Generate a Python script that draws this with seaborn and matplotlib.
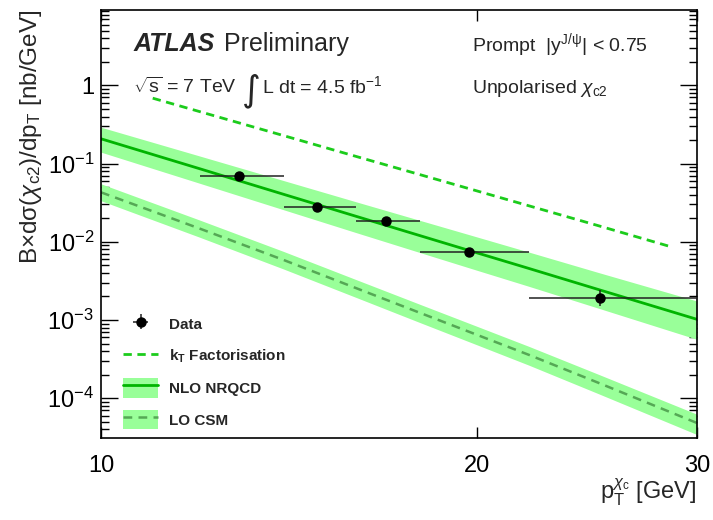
import numpy as np
import pandas as pd
import matplotlib
matplotlib.use("Agg")
import matplotlib.pyplot as plt
import seaborn as sns
from matplotlib.lines import Line2D
from matplotlib.patches import Patch
from matplotlib.legend_handler import HandlerTuple
from matplotlib.ticker import FixedLocator, FixedFormatter, LogLocator, NullFormatter, NullLocator

# ---------------- data ----------------
data_pt = [12.9, 14.9, 16.9, 19.7, 25.1]
data_lo = [12.0, 14.0, 16.0, 18.0, 22.0]
data_hi = [14.0, 16.0, 18.0, 22.0, 30.0]
data_y = [0.0687, 0.0281, 0.0184, 0.00744, 0.00191]
data_ydn = [0.004, 0.0018, 0.0012, 0.0006, 0.0004]
data_yup = [0.004, 0.0018, 0.0012, 0.0007, 0.0005]

theo_pt = [10, 12, 14, 16, 18, 20, 22, 25, 30]
nlo_c = [0.2075, 0.0858, 0.0405, 0.0212, 0.0120, 0.00722, 0.00457, 0.00246, 0.00102]
nlo_up = [0.2917, 0.1248, 0.0607, 0.0325, 0.0188, 0.01153, 0.0074, 0.00406, 0.00175]
nlo_dn = [0.140, 0.0559, 0.0257, 0.01312, 0.00729, 0.00432, 0.0027, 0.00142, 0.000566]

lo_c = [0.0429, 0.01472, 0.00586, 0.00256, 0.001236, 0.000646, 0.000359, 0.000158, 0.0000482]
lo_up = [0.0551, 0.01892, 0.00753, 0.00329, 0.001588, 0.00083, 0.000461, 0.000203, 0.0000624]
lo_dn = [0.0335, 0.01141, 0.00449, 0.001946, 0.000928, 0.000481, 0.000265, 0.0001147, 0.0000343]

kt_pt = [11, 12, 14, 16, 18, 20, 22, 25, 28.6]
kt_y = [0.686, 0.461, 0.228, 0.1236, 0.0723, 0.0447, 0.0289, 0.0161, 0.00863]

yticks = [1e-4, 1e-3, 1e-2, 1e-1, 1]
ytick_labels = ["10$^{-4}$", "10$^{-3}$", "10$^{-2}$", "10$^{-1}$", "1"]
xticks = [10, 20, 30]
xtick_labels = ["10", "20", "30"]

# ---------------- style ----------------
sns.set_theme(style="ticks")
plt.rcParams['font.family'] = ['Liberation Sans', 'DejaVu Sans']
plt.rcParams['mathtext.fontset'] = 'custom'
plt.rcParams['mathtext.rm'] = 'Liberation Sans'
plt.rcParams['mathtext.it'] = 'Liberation Sans:italic'
plt.rcParams['mathtext.bf'] = 'Liberation Sans:bold'

band_col = "#99ff99"
nlo_col = "#00b400"
kt_col = "#1ccc1c"
lo_col = "#55a855"

fig = plt.figure(figsize=(7.13, 5.20), dpi=100)
ax = fig.add_axes([101/713, 82/520, 596/713, 428/520])

theo = pd.DataFrame({"pt": theo_pt, "nlo": nlo_c, "nlo_up": nlo_up, "nlo_dn": nlo_dn,
                     "lo": lo_c, "lo_up": lo_up, "lo_dn": lo_dn})
kt = pd.DataFrame({"pt": kt_pt, "y": kt_y})

ax.fill_between(theo["pt"], theo["nlo_dn"], theo["nlo_up"], color=band_col, lw=0, zorder=1)
ax.fill_between(theo["pt"], theo["lo_dn"], theo["lo_up"], color=band_col, lw=0, zorder=1)

sns.lineplot(data=theo, x="pt", y="nlo", ax=ax, color=nlo_col, lw=2.0, zorder=2)
sns.lineplot(data=theo, x="pt", y="lo", ax=ax, color=lo_col, lw=1.8, zorder=2)
ax.lines[-1].set_dashes((3.5, 2.5))
sns.lineplot(data=kt, x="pt", y="y", ax=ax, color=kt_col, lw=2.0, zorder=2)
ax.lines[-1].set_dashes((3, 2))

xerr = [np.array(data_pt) - np.array(data_lo), np.array(data_hi) - np.array(data_pt)]
yerr = [data_ydn, data_yup]
eb = ax.errorbar(data_pt, data_y, xerr=xerr, yerr=yerr, fmt='o', color='black',
                 ecolor='#222222', elinewidth=1.1, capsize=0, ms=6.5, zorder=5)

ax.set_xscale('log')
ax.set_yscale('log')
ax.set_xlim(10, 30)
ax.set_ylim(3.1e-5, 9.2)

ax.xaxis.set_major_locator(FixedLocator(xticks))
ax.xaxis.set_major_formatter(FixedFormatter(xtick_labels))
ax.xaxis.set_minor_locator(NullLocator())
ax.xaxis.set_minor_formatter(NullFormatter())
ax.yaxis.set_major_locator(FixedLocator(yticks))
ax.yaxis.set_major_formatter(FixedFormatter(ytick_labels))
ax.yaxis.set_minor_locator(LogLocator(base=10, subs=np.arange(2, 10)))
ax.yaxis.set_minor_formatter(NullFormatter())

ax.tick_params(axis='both', which='both', direction='in', colors='black', labelsize=17)
ax.tick_params(axis='x', which='major', length=8, width=1, top=True, bottom=True, pad=12)
ax.tick_params(axis='y', which='major', length=12, width=1, left=True, right=True, pad=5)
ax.tick_params(axis='y', which='minor', length=6, width=1, left=True, right=True)
for s in ax.spines.values():
    s.set_linewidth(1.2)
    s.set_color('black')

ax.set_ylabel(r"B×dσ($\chi_{\mathrm{c2}}$)/dp$_{\mathrm{T}}$ [nb/GeV]", fontsize=17.5, loc='top', labelpad=2)
ax.set_xlabel(r"$\mathrm{p}_{\mathrm{T}}^{\chi_{\mathrm{c}}}$ [GeV]", fontsize=17, loc='right', labelpad=0)

# annotations
ax.text(0.054, 0.904, "ATLAS", transform=ax.transAxes, fontsize=18, fontweight='bold',
        fontstyle='italic', va='baseline')
ax.text(0.206, 0.904, "Preliminary", transform=ax.transAxes, fontsize=18, va='baseline')
ax.text(0.054, 0.806, r"$\sqrt{\mathrm{s}}$ = 7 TeV", transform=ax.transAxes, fontsize=14, va='baseline')
ax.text(0.236, 0.788, "∫", transform=ax.transAxes, fontsize=26, va='baseline',
        family=['DejaVu Sans'])
ax.text(0.270, 0.806, r"L dt = 4.5 fb$^{-1}$", transform=ax.transAxes, fontsize=14, va='baseline')
ax.text(0.622, 0.904, r"Prompt  |y$^{\mathrm{J/\psi}}$| < 0.75", transform=ax.transAxes,
        fontsize=14, va='baseline')
ax.text(0.622, 0.806, r"Unpolarised $\chi_{\mathrm{c2}}$", transform=ax.transAxes,
        fontsize=14, va='baseline')

# legend
kt_h = Line2D([], [], color=kt_col, lw=2.0, dashes=(3, 2))
nlo_h = (Patch(facecolor=band_col, edgecolor='none'), Line2D([], [], color=nlo_col, lw=2.0))
lo_h = (Patch(facecolor=band_col, edgecolor='none'), Line2D([], [], color=lo_col, lw=1.8, dashes=(3.5, 2.5)))
leg = ax.legend([eb, kt_h, nlo_h, lo_h],
                ["Data", r"k$_{\mathbf{T}}$ Factorisation", "NLO NRQCD", "LO CSM"],
                handler_map={tuple: HandlerTuple(ndivide=1)},
                loc='lower left', bbox_to_anchor=(0.037, 0.02), frameon=False,
                prop={'weight': 'bold', 'size': 11}, handlelength=2.3, handleheight=1.6,
                labelspacing=0.8, handletextpad=0.7, borderpad=0, borderaxespad=0)

fig.savefig("out.png", dpi=100)
